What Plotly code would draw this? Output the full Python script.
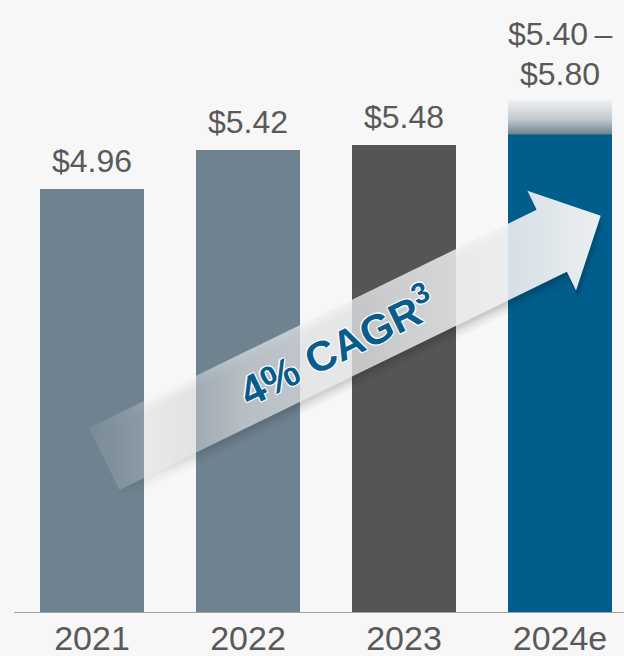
import math
import plotly.graph_objects as go

# ---------------- data ----------------
years = ["2021", "2022", "2023", "2024e"]
eps_actual = [4.96, 5.42, 5.48]
guide_low = 5.40
guide_high = 5.80
cagr_label = "4% CAGR<sup>3</sup>"

bar_colors = ["#6e828f", "#6e828f", "#555555", "#005d8c"]
text_color = "#595959"
bg = "#f7f7f7"
FONT = "Liberation Sans, Arial, sans-serif"

guide_mid = (guide_low + guide_high) / 2
guide_fade_top = guide_mid + (guide_high - guide_low)
bar_values = eps_actual + [guide_mid]
xpos = list(range(len(years)))
bar_w = 0.667

fig = go.Figure()

fig.add_trace(go.Bar(
    x=xpos, y=bar_values, width=bar_w,
    marker=dict(color=bar_colors, line=dict(width=0)),
    hoverinfo="skip", showlegend=False,
))

# fading cap on the guidance bar (range band)
gx = xpos[-1]
fig.add_trace(go.Scatter(
    x=[gx - bar_w / 2, gx + bar_w / 2, gx + bar_w / 2, gx - bar_w / 2, gx - bar_w / 2],
    y=[guide_mid, guide_mid, guide_fade_top, guide_fade_top, guide_mid],
    mode="lines", line=dict(width=0), fill="toself",
    fillgradient=dict(type="vertical", start=guide_mid, stop=guide_fade_top,
                      colorscale=[[0, "#6f808c"], [0.45, "#c3cad0"], [1, "#eef0f2"]]),
    hoverinfo="skip", showlegend=False,
))

# ---------------- growth arrow (pixel geometry on an overlay axis) ----------------
ang = math.radians(26)
ux, uy = math.cos(ang), -math.sin(ang)      # along the arrow (screen y down)
nx, ny = math.sin(ang), math.cos(ang)       # perpendicular, towards lower side
tail = (89, 428)                             # upper tail corner
shaft_w = 69
shaft_len = 498
barb = 21
tip_s = 553


def P(s, n, dx=0, dy=0):
    return (tail[0] + ux * s + nx * n + dx, tail[1] + uy * s + ny * n + dy)


def arrow_pts(dx=0, dy=0):
    pts = [
        P(0, 0, dx, dy),
        P(shaft_len, 0, dx, dy),
        P(shaft_len, -barb, dx, dy),
        P(tip_s, shaft_w / 2 - 1, dx, dy),
        P(shaft_len, shaft_w + barb, dx, dy),
        P(shaft_len, shaft_w, dx, dy),
        P(0, shaft_w, dx, dy),
        P(0, 0, dx, dy),
    ]
    return [p[0] for p in pts], [p[1] for p in pts]


for off, a in [(11, 0.04), (8, 0.05), (5, 0.06), (3, 0.06)]:
    sx, sy = arrow_pts(off * 0.3, off)
    fig.add_trace(go.Scatter(
        x=sx, y=sy, xaxis="x2", yaxis="y2", mode="lines", line=dict(width=0),
        fill="toself",
        fillgradient=dict(type="horizontal", start=89, stop=600,
                          colorscale=[[0, "rgba(0,0,0,0)"], [0.25, f"rgba(0,0,0,{a*0.7})"],
                                      [1, f"rgba(0,0,0,{a})"]]),
        hoverinfo="skip", showlegend=False,
    ))

ax_, ay_ = arrow_pts()
fig.add_trace(go.Scatter(
    x=ax_, y=ay_, xaxis="x2", yaxis="y2", mode="lines", line=dict(width=0),
    fill="toself",
    fillgradient=dict(type="horizontal", start=89, stop=600,
                      colorscale=[[0, "rgba(236,238,240,0.08)"],
                                  [0.3, "rgba(236,238,240,0.62)"],
                                  [0.6, "rgba(236,238,240,0.8)"],
                                  [1, "rgba(240,242,244,0.98)"]]),
    hoverinfo="skip", showlegend=False,
))

cx, cy = P(shaft_len * 0.5 + 10, shaft_w / 2 - 1)

annotations = []
for i, v in enumerate(eps_actual):
    annotations.append(dict(
        x=xpos[i], y=v, xref="x", yref="y", text=f"${v:.2f}", showarrow=False,
        xanchor="center", yanchor="bottom", yshift=8,
        font=dict(family=FONT, size=32, color=text_color),
    ))
annotations.append(dict(
    x=gx, y=guide_fade_top, xref="x", yref="y", text=f"${guide_high:.2f}", showarrow=False,
    xanchor="center", yanchor="bottom", yshift=6,
    font=dict(family=FONT, size=32, color=text_color),
))
annotations.append(dict(
    x=gx, y=guide_fade_top, xref="x", yref="y", text=f"${guide_low:.2f}\u2009\u2013", showarrow=False,
    xanchor="center", yanchor="bottom", yshift=46,
    font=dict(family=FONT, size=32, color=text_color),
))
annotations.append(dict(
    x=cx, y=cy, xref="x2", yref="y2", text=cagr_label, showarrow=False,
    xanchor="center", yanchor="middle", textangle=-26,
    font=dict(family="Liberation Sans, Arial, sans-serif", size=42, color="#0a5c8c",
              weight="bold",
              shadow="-1px -1px 0 #fff, 1px -1px 0 #fff, -1px 1px 0 #fff, 1px 1px 0 #fff"),
))

fig.update_layout(
    width=624, height=656,
    margin=dict(l=14, r=0, t=0, b=44, pad=0),
    paper_bgcolor=bg, plot_bgcolor=bg,
    bargap=0, showlegend=False,
    xaxis=dict(range=[-0.5, -0.5 + 610 / 156], tickvals=xpos, ticktext=years,
               showgrid=False, zeroline=False, showline=True, linecolor="#a3a3a3",
               linewidth=1, ticks="", automargin=False, fixedrange=True,
               ticklabelstandoff=-4,
               tickfont=dict(family=FONT, size=34, color=text_color)),
    yaxis=dict(range=[0, 612 / 85.28], visible=False, showgrid=False, zeroline=False,
               fixedrange=True),
    xaxis2=dict(range=[14, 624], overlaying="x", anchor="y2", visible=False, fixedrange=True),
    yaxis2=dict(range=[612, 0], overlaying="y", anchor="x2", visible=False, fixedrange=True),
    annotations=annotations,
)

fig.write_html(
    "out.html",
    config={"displayModeBar": False},
    post_script="document.body.style.margin='0';document.body.style.background='#f7f7f7';",
)
